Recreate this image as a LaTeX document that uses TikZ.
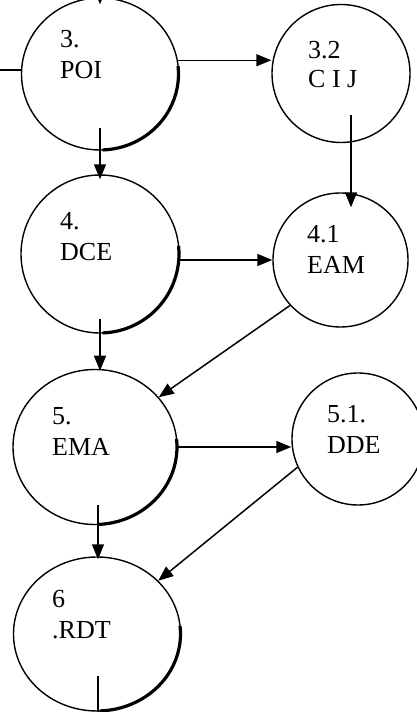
\documentclass[tikz,border=0pt]{standalone}
\usepackage{fontspec}
\setmainfont{Liberation Serif}
\usetikzlibrary{arrows.meta,positioning,shapes.geometric,calc}

\begin{document}
\begin{tikzpicture}[x=1pt, y=1pt,
    proc/.style={draw, ellipse, line width=1.4pt, inner sep=0pt},
    tag/.style={anchor=north west, inner sep=0pt, align=left, font=\fontsize{26}{31}\selectfont},
    flow/.style={-{Triangle[length=15pt,width=12pt]}, line width=1.5pt},
    rim/.style={line width=3.2pt}]
    \useasboundingbox (0,0) rectangle (417,712);

    % Processes
    \node[proc, minimum width=157pt, minimum height=152pt] (poi) at (100,638) {};
    \node[proc, minimum width=138pt, minimum height=138pt] (cij) at (341,638.5) {};
    \node[proc, minimum width=158pt, minimum height=158pt] (dce) at (100,458) {};
    \node[proc, minimum width=135pt, minimum height=134pt] (eam) at (340.5,452) {};
    \node[proc, minimum width=164pt, minimum height=155pt] (ema) at (95,265) {};
    \node[proc, minimum width=132pt, minimum height=132pt] (dde) at (358,273) {};
    \node[proc, minimum width=167pt, minimum height=154pt] (rdt) at (97,78) {};

    % Heavy lower rims
    \foreach \n/\a/\b in {poi/78.5/76, dce/79/79, ema/82/77.5, rdt/83.5/77}
        \draw[rim] (\n.center) ++(-88:\a pt and \b pt)
            arc[start angle=-88, end angle=6, x radius=\a pt, y radius=\b pt];

    % Labels
    \node[tag] (poiTxt) at (60,681.5) {3.\\POI};
    \node[tag, font=\fontsize{26}{29}\selectfont] (cijTxt) at (308,670.5) {3.2\\C I J};
    \node[tag] (dceTxt) at (60,499.5) {4.\\DCE};
    \node[tag] (eamTxt) at (307,486.5) {4.1\\EAM};
    \node[tag] (emaTxt) at (52,304.5) {5.\\EMA};
    \node[tag] (ddeTxt) at (327,306.5) {5.1.\\DDE};
    \node[tag] (rdtTxt) at (52,121.5) {6\\.RDT};

    % Loose ends
    \coordinate (inTop) at (100,740);
    \coordinate (inLeft) at (0,642);
    \coordinate (outBottom) at (98,0);

    % Flows
    \draw[flow, shorten >=-7pt] (inTop) -- (poi.north);
    \draw[line width=1.5pt] (inLeft) -- (inLeft -| poi.west);
    \draw[flow] (poi.10) -- (poi.10 -| cij.west);
    \draw[flow] ($(poi.south)+(0,23)$) -- ($(dce.north)+(0,-5)$);
    \draw[flow] ($(cij.center)+(10,-41.5)$) -- ($(eam.north)+(10.5,-15)$);
    \draw[flow] (dce.east |- eam.west) -- (eam.west);
    \draw[flow] ($(dce.south)+(0,15)$) -- ($(dce.south)+(0,-37)$);
    \draw[flow] (eam.222) -- (ema.38);
    \draw[flow] (ema.east) -- (ema.east -| dde.west);
    \draw[flow] (dde.205) -- (rdt.41);
    \draw[flow] ($(ema.south)+(3,20)$) -- ($(rdt.north)+(1,-3)$);
    \draw[line width=1.5pt] ($(rdt.south)+(1,36)$) -- (outBottom);
\end{tikzpicture}
\end{document}
